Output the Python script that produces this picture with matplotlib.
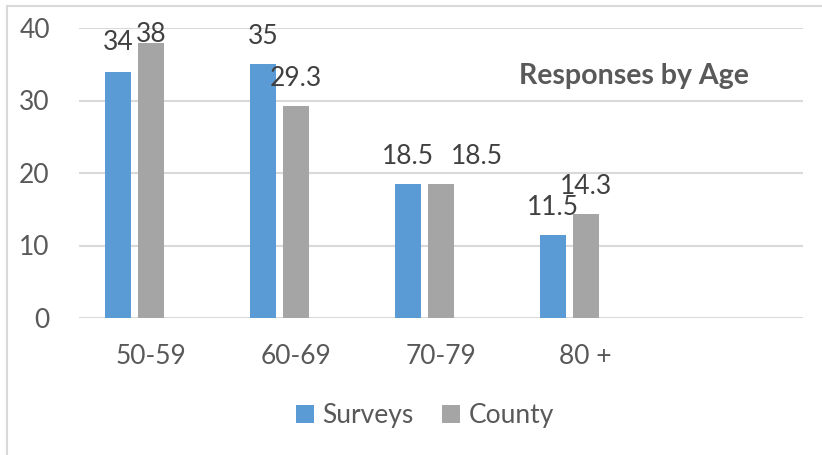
import numpy as np
import matplotlib
matplotlib.use("Agg")
import matplotlib.pyplot as plt
from matplotlib.lines import Line2D

# Data
categories = ["50-59", "60-69", "70-79", "80 +"]
surveys = [34, 35, 18.5, 11.5]
county = [38, 29.3, 18.5, 14.3]
n_slots = 5  # the source chart keeps an empty fifth category slot

BLUE = "#5B9BD5"
GRAY = "#A5A5A5"
GRID = "#D9D9D9"
TEXT = "#595959"
LABEL = "#404040"

plt.rcParams["font.family"] = ["Lato", "DejaVu Sans"]

fig = plt.figure(figsize=(8.22, 4.55), dpi=100)
ax = fig.add_axes([79 / 822, 1 - 318 / 455, 724 / 822, 290 / 455])

x = np.arange(len(categories))
width = 0.18
b1 = ax.bar(x - 0.228, surveys, width, color=BLUE, label="Surveys", zorder=3)
b2 = ax.bar(x, county, width, color=GRAY, label="County", zorder=3)

ax.set_xlim(-0.5, n_slots - 0.5)
ax.set_ylim(0, 40)
ax.set_yticks([0, 10, 20, 30, 40])
ax.set_xticks(x)
ax.set_xticklabels(categories)
ax.yaxis.grid(True, color=GRID, linewidth=1.5, zorder=0)
ax.set_axisbelow(True)
for s in ax.spines.values():
    s.set_visible(False)
ax.tick_params(axis="both", length=0, labelsize=19, colors=TEXT)
ax.tick_params(axis="y", pad=21)
ax.tick_params(axis="x", pad=19)

# data labels, nudged the way they sit in the original (offsets in pixels)
label_off = {("s", 0): (0, 21), ("c", 0): (0, 0), ("s", 1): (0, 20),
             ("c", 1): (0, 20), ("s", 2): (0, 20), ("c", 2): (36, 20),
             ("s", 3): (0, 20), ("c", 3): (0, 20)}
for key, bars, vals in (("s", b1, surveys), ("c", b2, county)):
    for i, (bar, v) in enumerate(zip(bars, vals)):
        dx, dy = label_off[(key, i)]
        ax.annotate(f"{v:g}", (bar.get_x() + bar.get_width() / 2, v),
                    xytext=(dx * 0.72, dy * 0.72), textcoords="offset points",
                    ha="center", va="baseline", fontsize=19, color=LABEL,
                    zorder=5, annotation_clip=False)

fig.text(634 / 822, 1 - 84 / 455, "Responses by Age", ha="center", va="baseline",
         fontsize=20.5, fontweight="bold", color=TEXT)

leg = fig.legend(handles=[b1, b2], loc="center", bbox_to_anchor=(425 / 822, 1 - 416 / 455),
                 ncol=2, frameon=False, fontsize=19, handlelength=0.68, handleheight=0.68,
                 handletextpad=0.3, columnspacing=1.1, borderpad=0)
for t in leg.get_texts():
    t.set_color(TEXT)

# chart area border (left and top edges visible in the crop)
fig.add_artist(Line2D([7 / 822, 7 / 822], [0, 1 - 6 / 455], color=GRID, lw=1.5))
fig.add_artist(Line2D([7 / 822, 1], [1 - 6 / 455, 1 - 6 / 455], color=GRID, lw=1.5))

fig.savefig("out.png", dpi=100)
